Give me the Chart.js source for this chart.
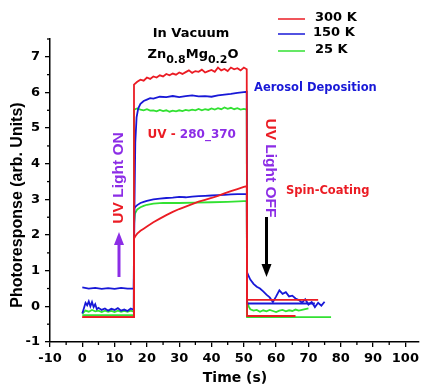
<!DOCTYPE html>
<html lang="en">
  <head>
    <meta charset="UTF-8" />
    <title>Photoresponse Zn0.8Mg0.2O</title>
    <script src="https://cdn.jsdelivr.net/npm/chart.js@4.4.0/dist/chart.umd.min.js"></script>
    <style>
      html, body { margin: 0; padding: 0; background: #fff; }
      .chart-container { width: 423px; height: 385px; }
    </style>
  </head>
  <body>
    <div class="chart-container">
      <canvas id="myChart"></canvas>
    </div>

    <script>
      // axis ticks
      const xTicks = [-10, 0, 10, 20, 30, 40, 50, 60, 70, 80, 90, 100];
      const yTicks = [-1, 0, 1, 2, 3, 4, 5, 6, 7];

      // 300 K - aerosol deposition
      const red300AdTime = [0, 15.9, 16, 17, 18, 19, 20, 21, 22, 23, 24, 25, 26, 27, 28, 29, 30, 31, 32, 33, 34, 35, 36, 37, 38, 39, 40, 41, 42, 43, 44, 45, 46, 47, 48, 49, 50, 50.9, 51, 66];
      const red300AdResp = [-0.3, -0.3, 6.22, 6.3, 6.36, 6.33, 6.42, 6.38, 6.45, 6.42, 6.48, 6.45, 6.52, 6.48, 6.53, 6.5, 6.56, 6.52, 6.57, 6.62, 6.55, 6.6, 6.58, 6.64, 6.56, 6.6, 6.63, 6.58, 6.7, 6.62, 6.66, 6.6, 6.7, 6.65, 6.68, 6.62, 6.7, 6.65, -0.27, -0.27];

      // 300 K - spin coating
      const red300ScTime = [0, 15.9, 16, 16.5, 17, 18, 19, 20, 22, 24, 26, 28, 30, 32, 34, 36, 38, 40, 42, 44, 46, 48, 50, 50.9, 51, 73];
      const red300ScResp = [-0.3, -0.3, 1.9, 1.98, 2.04, 2.12, 2.18, 2.24, 2.36, 2.46, 2.56, 2.65, 2.73, 2.8, 2.87, 2.94, 2.99, 3.04, 3.1, 3.17, 3.23, 3.29, 3.35, 3.37, 0.18, 0.18];

      // 150 K - aerosol deposition
      const blue150AdTime = [0, 2, 4, 6, 8, 10, 12, 14, 15.5, 15.9, 16.1, 16.4, 16.8, 17.3, 18, 19, 20, 21, 22, 24, 26, 28, 30, 32, 34, 36, 38, 40, 42, 44, 46, 48, 50, 50.9, 51, 51.5, 52, 53, 54, 55, 56, 57, 58, 59, 60, 61, 62, 63, 64, 65, 66, 67, 68, 69, 70, 71, 72, 73, 74, 75];
      const blue150AdResp = [0.53, 0.5, 0.52, 0.49, 0.51, 0.49, 0.52, 0.5, 0.5, 0.5, 2.5, 4.6, 5.3, 5.55, 5.68, 5.76, 5.8, 5.84, 5.83, 5.88, 5.87, 5.9, 5.87, 5.9, 5.92, 5.89, 5.9, 5.88, 5.92, 5.94, 5.96, 5.99, 6.01, 6.02, 0.95, 0.85, 0.75, 0.63, 0.55, 0.5, 0.42, 0.33, 0.25, 0.12, 0.28, 0.45, 0.35, 0.4, 0.28, 0.3, 0.22, 0.18, 0.1, 0.2, 0.05, 0.12, -0.02, 0.1, 0.02, 0.13];

      // 150 K - spin coating
      const blue150ScTime = [0, 0.5, 1, 1.5, 2, 2.5, 3, 3.5, 4, 4.5, 5, 6, 7, 8, 9, 10, 11, 12, 13, 14, 15, 15.9, 16.1, 16.5, 17, 18, 19, 20, 22, 24, 26, 28, 30, 32, 34, 36, 38, 40, 42, 44, 46, 48, 50, 50.9, 51, 72];
      const blue150ScResp = [-0.2, -0.05, 0.1, 0.03, 0.14, 0.0, 0.12, -0.02, 0.06, -0.08, -0.04, -0.1, -0.06, -0.12, -0.07, -0.1, -0.05, -0.12, -0.09, -0.13, -0.06, -0.1, 2.75, 2.8, 2.84, 2.9, 2.93, 2.96, 3.0, 3.02, 3.04, 3.05, 3.07, 3.06, 3.08, 3.09, 3.1, 3.11, 3.12, 3.13, 3.14, 3.15, 3.15, 3.15, 0.08, 0.08];

      // 25 K - aerosol deposition
      const green25AdTime = [0, 1, 2, 3, 4, 5, 6, 7, 8, 9, 10, 11, 12, 13, 14, 15, 15.9, 16, 17, 18, 19, 20, 21, 22, 23, 24, 25, 26, 27, 28, 29, 30, 31, 32, 33, 34, 35, 36, 37, 38, 39, 40, 41, 42, 43, 44, 45, 46, 47, 48, 49, 50, 50.9, 51, 51.5, 52, 53, 54, 55, 56, 57, 58, 59, 60, 61, 62, 63, 64, 65, 66, 67, 68, 69, 70];
      const green25AdResp = [-0.2, -0.12, -0.15, -0.1, -0.14, -0.12, -0.16, -0.12, -0.15, -0.13, -0.16, -0.12, -0.15, -0.13, -0.15, -0.12, -0.15, 5.52, 5.55, 5.52, 5.5, 5.53, 5.49, 5.5, 5.47, 5.51, 5.48, 5.5, 5.46, 5.49, 5.47, 5.5, 5.48, 5.51, 5.49, 5.52, 5.5, 5.54, 5.5, 5.53, 5.51, 5.55, 5.52, 5.56, 5.53, 5.58, 5.54, 5.57, 5.53, 5.56, 5.52, 5.54, 5.52, 0.15, 0.0, -0.08, -0.12, -0.1, -0.15, -0.11, -0.14, -0.1, -0.13, -0.16, -0.12, -0.1, -0.14, -0.11, -0.13, -0.09, -0.12, -0.1, -0.08, -0.06];

      // 25 K - spin coating
      const green25ScTime = [0, 15.9, 16, 16.3, 17, 18, 19, 20, 22, 25, 30, 35, 40, 45, 50, 50.9, 51, 77];
      const green25ScResp = [-0.25, -0.25, 2.3, 2.6, 2.72, 2.78, 2.82, 2.85, 2.88, 2.9, 2.9, 2.91, 2.92, 2.93, 2.95, 2.95, -0.3, -0.3];

      const legendLabels = ["300 K", "150 K", "25 K"];

      const RED = "rgb(235, 28, 36)";
      const BLUE = "rgb(24, 24, 215)";
      const GREEN = "rgb(50, 225, 50)";
      const PURPLE = "rgb(140, 45, 230)";
      const legendColors = [RED, BLUE, GREEN];

      function pts(xs, ys) {
        return xs.map((x, i) => ({ x: x, y: ys[i] }));
      }

      function series(label, xs, ys, color) {
        return {
          label: label,
          data: pts(xs, ys),
          borderColor: color,
          backgroundColor: color,
          borderWidth: 1.8,
          pointRadius: 0,
          showLine: true,
          tension: 0,
        };
      }

      // minor ticks, legend and all the text labels
      const decorations = {
        id: "decorations",
        afterDraw(chart) {
          const c = chart.ctx;
          const xs = chart.scales.x;
          const ys = chart.scales.y;
          c.save();
          c.strokeStyle = "#000";
          c.lineWidth = 1.3;
          // minor ticks
          for (let i = 0; i < xTicks.length; i++) {
            const px = xs.getPixelForValue(xTicks[i] + 5);
            if (px > xs.right) continue;
            c.beginPath();
            c.moveTo(px, xs.top);
            c.lineTo(px, xs.top + 3);
            c.stroke();
          }
          for (let i = 0; i < yTicks.length; i++) {
            const py = ys.getPixelForValue(yTicks[i] + 0.5);
            c.beginPath();
            c.moveTo(ys.right, py);
            c.lineTo(ys.right - 3, py);
            c.stroke();
          }

          // legend
          const legendY = [19, 34, 51];
          c.font = "bold 13px 'DejaVu Sans'";
          c.textBaseline = "middle";
          c.textAlign = "left";
          for (let i = 0; i < legendLabels.length; i++) {
            c.strokeStyle = legendColors[i];
            c.lineWidth = 1.5;
            c.beginPath();
            c.moveTo(278, legendY[i]);
            c.lineTo(305, legendY[i]);
            c.stroke();
            c.fillStyle = "#000";
            c.fillText(legendLabels[i], i === 1 ? 313 : 315, legendY[i] - 1);
          }

          // title lines
          c.textAlign = "center";
          c.fillStyle = "#000";
          c.fillText("In Vacuum", 191, 34);
          drawFormula(c, 193, 57.5);

          // axis titles
          c.font = "bold 14px 'DejaVu Sans'";
          c.fillText("Time (s)", 235, 378);
          c.save();
          c.translate(18, 205);
          c.rotate(-Math.PI / 2);
          c.font = "bold 16px 'Liberation Sans'";
          c.fillText("Photoresponse (arb. Units)", 0, 0);
          c.restore();

          // side notes
          c.textAlign = "left";
          c.font = "bold 11.5px 'DejaVu Sans'";
          c.fillStyle = BLUE;
          c.fillText("Aerosol Deposition", 254, 88);
          c.fillStyle = RED;
          c.fillText("Spin-Coating", 286, 191);

          c.font = "bold 12px 'DejaVu Sans'";
          drawParts(c, 147.5, 135, [["UV - ", RED], ["280_370", PURPLE]]);

          // rotated light on / off labels
          c.font = "bold 15.5px 'Liberation Sans'";
          drawRotated(c, 119, 178, -Math.PI / 2, [["UV", RED], [" Light ON", PURPLE]]);
          drawRotated(c, 270.5, 168, Math.PI / 2, [["UV", RED], [" Light OFF", PURPLE]]);

          // arrows
          drawArrow(c, 119, 277, 232, PURPLE);
          drawArrow(c, 266.5, 217, 277, "#000");
          c.restore();
        },
      };

      function drawParts(c, x, y, parts) {
        let cx = x;
        for (const [t, col] of parts) {
          c.fillStyle = col;
          c.fillText(t, cx, y);
          cx += c.measureText(t).width;
        }
      }

      function drawRotated(c, x, y, angle, parts) {
        c.save();
        c.translate(x, y);
        c.rotate(angle);
        let w = 0;
        for (const [t] of parts) w += c.measureText(t).width;
        c.textAlign = "left";
        drawParts(c, -w / 2, 0, parts);
        c.restore();
      }

      function drawFormula(c, cx, baseline) {
        const parts = [
          ["Zn", 13, 0],
          ["0.8", 11, 5],
          ["Mg", 13, 0],
          ["0.2", 11, 5],
          ["O", 13, 0],
        ];
        let w = 0;
        for (const [t, s] of parts) {
          c.font = "bold " + s + "px 'DejaVu Sans'";
          w += c.measureText(t).width;
        }
        let x = cx - w / 2;
        c.textAlign = "left";
        c.textBaseline = "alphabetic";
        for (const [t, s, dy] of parts) {
          c.font = "bold " + s + "px 'DejaVu Sans'";
          c.fillText(t, x, baseline + dy);
          x += c.measureText(t).width;
        }
        c.textBaseline = "middle";
        c.textAlign = "center";
        c.font = "bold 13px 'DejaVu Sans'";
      }

      function drawArrow(c, x, yFrom, yTip, color) {
        const dir = yTip > yFrom ? 1 : -1;
        const headLen = 13;
        c.strokeStyle = color;
        c.fillStyle = color;
        c.lineWidth = 3;
        c.beginPath();
        c.moveTo(x, yFrom);
        c.lineTo(x, yTip - dir * headLen);
        c.stroke();
        c.beginPath();
        c.moveTo(x, yTip);
        c.lineTo(x - 5, yTip - dir * headLen);
        c.lineTo(x + 5, yTip - dir * headLen);
        c.closePath();
        c.fill();
      }

      Chart.defaults.font.family = "'DejaVu Sans'";
      Chart.defaults.font.weight = "bold";
      Chart.defaults.font.size = 13;
      Chart.defaults.color = "#000";

      const ctx = document.getElementById("myChart").getContext("2d");
      const myChart = new Chart(ctx, {
        type: "scatter",
        data: {
          datasets: [
            series("300 K AD", red300AdTime, red300AdResp, RED),
            series("300 K SC", red300ScTime, red300ScResp, RED),
            series("150 K AD", blue150AdTime, blue150AdResp, BLUE),
            series("150 K SC", blue150ScTime, blue150ScResp, BLUE),
            series("25 K AD", green25AdTime, green25AdResp, GREEN),
            series("25 K SC", green25ScTime, green25ScResp, GREEN),
          ],
        },
        options: {
          animation: false,
          responsive: true,
          maintainAspectRatio: false,
          layout: { padding: { top: 39, right: 2, left: 0, bottom: 0 } },
          scales: {
            x: {
              type: "linear",
              min: -10,
              max: 104,
              afterFit(scale) {
                scale.height = 43;
              },
              afterBuildTicks(scale) {
                scale.ticks = xTicks.map((v) => ({ value: v }));
              },
              ticks: { padding: 4, color: "#000", maxRotation: 0 },
              grid: {
                drawOnChartArea: false,
                drawTicks: true,
                tickLength: 5,
                color: "#000",
                lineWidth: 1.3,
              },
              border: { display: true, color: "#000", width: 1.5 },
            },
            y: {
              type: "linear",
              min: -1,
              max: 7.5,
              afterFit(scale) {
                scale.width = 50;
              },
              afterBuildTicks(scale) {
                scale.ticks = yTicks.map((v) => ({ value: v }));
              },
              ticks: { padding: 5, color: "#000" },
              grid: {
                drawOnChartArea: false,
                drawTicks: true,
                tickLength: 5,
                color: "#000",
                lineWidth: 1.3,
              },
              border: { display: true, color: "#000", width: 1.5 },
            },
          },
          plugins: {
            legend: { display: false },
            tooltip: { enabled: false },
          },
        },
        plugins: [decorations],
      });
    </script>
  </body>
</html>
